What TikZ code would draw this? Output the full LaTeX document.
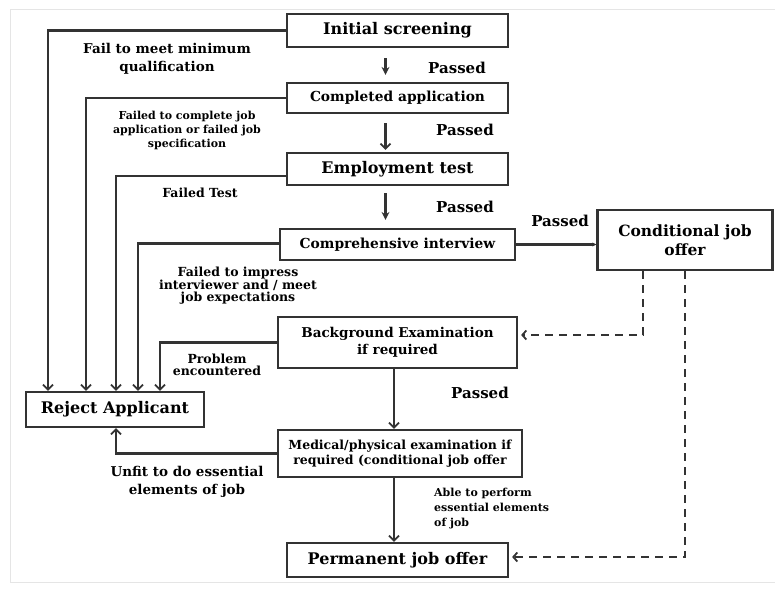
\documentclass[tikz,border=0pt]{standalone}
\usepackage{fontspec}
\setmainfont{DejaVu Serif}
\usetikzlibrary{arrows.meta,calc}
\definecolor{ln}{HTML}{333333}
\tikzset{
  box/.style={draw=ln, line width=2.2pt, align=center, inner sep=0pt, font=\bfseries},
  conn/.style={draw=ln, line width=2.1pt},
  arr/.style={conn, -{Straight Barb[length=5pt,width=10pt,line width=1.8pt]}},
  sarr/.style={draw=ln, line width=2.3pt, -{Stealth[length=8pt,width=8pt]}},
  harr/.style={conn, -{Stealth[length=4pt,width=4pt]}},
  darr/.style={draw=ln, line width=2.1pt, dash pattern=on 8pt off 6pt, -{Straight Barb[length=4pt,width=9pt,line width=1.8pt]}},
  lbl/.style={align=center, inner sep=0pt, font=\bfseries},
}
\newcommand{\fs}[1]{\fontsize{#1}{#1}\selectfont}
\begin{document}
\begin{tikzpicture}[x=1pt,y=-1pt]
\useasboundingbox (0,0) rectangle (775,588);
\draw[gray!20, line width=1pt] (10,582) -- (10,10) -- (775,10);
\draw[gray!20, line width=1pt] (10,582) -- (775,582);

% boxes
\node[box, minimum width=221pt, minimum height=33pt, font=\bfseries\fs{16}] (init) at (397.5,30.5) {Initial screening};
\node[box, minimum width=221pt, minimum height=30pt, font=\bfseries\fs{13.8}] (comp) at (397.5,98) {Completed application};
\node[box, minimum width=221pt, minimum height=32pt, font=\bfseries\fs{16}] (emp) at (397.5,169) {Employment test};
\node[box, minimum width=235pt, minimum height=31pt, font=\bfseries\fs{13.8}] (intv) at (397.5,244.5) {Comprehensive interview};
\node[box, minimum width=175pt, minimum height=60pt, font=\bfseries\fs{15.5}, align=center] (cond) at (685,240) {Conditional job\\[3pt] offer};
\node[box, minimum width=239pt, minimum height=51pt, font=\bfseries\fs{13.5}] (bg) at (397.5,342.5) {Background Examination\\[3pt] if required};
\node[box, minimum width=244pt, minimum height=47pt, font=\bfseries\fs{12.5}] (med) at (400,453.5) {Medical/physical examination if\\[3pt] required (conditional job offer};
\node[box, minimum width=221pt, minimum height=34pt, font=\bfseries\fs{16}] (perm) at (397.5,560) {Permanent job offer};
\node[box, minimum width=178pt, minimum height=35pt, font=\bfseries\fs{16}] (rej) at (115,409.5) {Reject Applicant};

% main flow
\draw[sarr] ($(init.south)+(-12,10)$) -- ($(comp.north)+(-12,-7)$);
\draw[arr] ($(comp.south)+(-12,9)$) -- ($(emp.north)+(-12,-2)$);
\draw[sarr] ($(emp.south)+(-12,7)$) -- ($(intv.north)+(-12,-8)$);
\draw[harr] (intv.east) -- (cond.west |- intv.east);
\coordinate (bgx) at (394,0);
\draw[arr] (bg.south -| bgx) -- (med.north -| bgx);
\draw[arr] (med.south -| bgx) -- (perm.north -| bgx);

% passed labels
\node[lbl, font=\bfseries\fs{15}] (p1) at (457,68) {Passed};
\node[lbl, font=\bfseries\fs{15}] (p2) at (465,130) {Passed};
\node[lbl, font=\bfseries\fs{15}] (p3) at (465,207) {Passed};
\node[lbl, font=\bfseries\fs{15}] (p4) at (560,221) {Passed};
\node[lbl, font=\bfseries\fs{15}] (p5) at (480,393) {Passed};

% reject lines
\coordinate (r1) at (48,0);
\coordinate (r2) at (86,0);
\coordinate (r3) at (116,0);
\coordinate (r4) at (138,0);
\coordinate (r5) at (160,0);
\draw[arr] (init.west) -| (rej.north -| r1);
\draw[arr] (comp.west) -| (rej.north -| r2);
\draw[arr] ([yshift=-7pt]emp.west) -| (rej.north -| r3);
\draw[arr] ([yshift=1pt]intv.west) -| (rej.north -| r4);
\draw[arr] (bg.west) -| (rej.north -| r5);
\draw[arr] (med.west) -| (rej.south -| r3);

% failure labels
\node[lbl, font=\bfseries\fs{13.5}] (f1) at (167,59) {Fail to meet minimum\\[4pt] qualification};
\node[lbl, font=\bfseries\fs{11}] (f2) at (187,130) {Failed to complete job\\[3pt] application or failed job\\[3pt] specification};
\node[lbl, font=\bfseries\fs{12.5}] (f3) at (200,193) {Failed Test};
\node[lbl, font=\bfseries\fs{12.5}] (f4) at (238,286) {Failed to impress\\[0pt] interviewer and / meet\\[0pt] job expectations};
\node[lbl, font=\bfseries\fs{12.5}] (f5) at (217,365) {Problem\\[0pt] encountered};
\node[lbl, font=\bfseries\fs{13.5}] (f6) at (187,482) {Unfit to do essential\\[5pt] elements of job};
\node[lbl, font=\bfseries\fs{11}, align=left, anchor=west] (f7) at (434,509) {Able to perform\\[4pt] essential elements\\[4pt] of job};

% dashed
\coordinate (d1) at (643,335);
\coordinate (d2) at (685,557);
\draw[darr] (cond.south -| d1) -- (d1) -- ([xshift=3pt]bg.east |- d1);
\draw[darr] (cond.south -| d2) -- (d2) -- ([xshift=3pt]perm.east |- d2);
\end{tikzpicture}
\end{document}
